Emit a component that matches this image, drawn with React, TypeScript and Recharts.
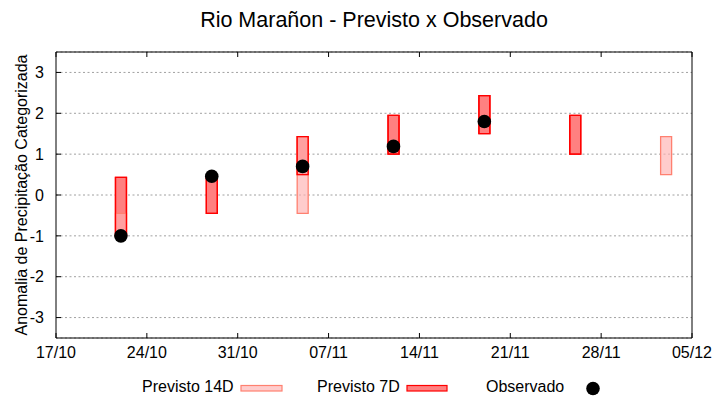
import React from 'react';
import { ComposedChart, Bar, Scatter, XAxis, YAxis, CartesianGrid } from 'recharts';

// x axis: days counted from 17/10
const tickDays = [0, 7, 14, 21, 28, 35, 42, 49];
const tickLabels = ['17/10', '24/10', '31/10', '07/11', '14/11', '21/11', '28/11', '05/12'];
const yTicks = [-3, -2, -1, 0, 1, 2, 3];

// forecast dates (day offsets) : 22/10, 29/10, 05/11, 12/11, 19/11, 26/11, 03/12
const forecastDays = [5, 12, 19, 26, 33, 40, 47];
const p14Low = [-1.0, null, -0.45, null, null, null, 0.5];
const p14High = [-0.45, null, 1.43, null, null, null, 1.43];
const p7Low = [-1.0, -0.45, 0.5, 1.0, 1.5, 1.0, null];
const p7High = [0.43, 0.43, 1.43, 1.95, 2.43, 1.95, null];
const observed = [-1.0, 0.46, 0.7, 1.19, 1.8, null, null];

const data = forecastDays.map((d, i) => ({
  day: d,
  p14: p14Low[i] == null ? null : [p14Low[i], p14High[i]],
  p7: p7Low[i] == null ? null : [p7Low[i], p7High[i]],
}));
const obsData = forecastDays
  .map((d, i) => ({ day: d, obs: observed[i] }))
  .filter((p) => p.obs != null);

const FONT = '"Liberation Sans", Arial, sans-serif';
const labelFor = (v: number) => tickLabels[tickDays.indexOf(v)] ?? '';
const DOMAIN_X: [number, number] = [0, 49];
const DOMAIN_Y: [number, number] = [-3.5, 3.5];

const Dot = (props: any) => {
  const { cx, cy } = props;
  if (cx == null || cy == null) return null;
  return <circle cx={cx} cy={cy} r={6.8} fill="#000" />;
};

export default function App() {
  return (
    <div style={{ position: 'absolute', left: 0, top: 0, width: 720, height: 400, background: '#fff', fontFamily: FONT }}>
      <ComposedChart
        width={720}
        height={400}
        data={data}
        margin={{ top: 51, right: 27, bottom: 32, left: 0 }}
        style={{ fontFamily: FONT }}
      >
        <CartesianGrid vertical={false} stroke="#a0a0a0" strokeDasharray="2 2.5" />
        <XAxis
          xAxisId={0}
          dataKey="day"
          type="number"
          domain={DOMAIN_X}
          ticks={tickDays}
          tickFormatter={labelFor}
          interval={0}
          height={30}
          tickSize={-5}
          tickMargin={14}
          stroke="#000"
          tick={{ fill: '#000', fontSize: 16, fontFamily: FONT }}
        />
        <XAxis
          xAxisId="top"
          orientation="top"
          dataKey="day"
          type="number"
          domain={DOMAIN_X}
          ticks={tickDays}
          tickFormatter={() => ''}
          interval={0}
          height={1}
          tickSize={-5}
          stroke="#000"
        />
        <XAxis xAxisId="b" dataKey="day" type="number" domain={DOMAIN_X} hide />
        <XAxis xAxisId="c" dataKey="day" type="number" domain={DOMAIN_X} hide />
        <YAxis
          yAxisId={0}
          type="number"
          domain={DOMAIN_Y}
          ticks={yTicks}
          interval={0}
          width={56}
          tickSize={-5}
          tickMargin={17}
          stroke="#000"
          tick={{ fill: '#000', fontSize: 16, fontFamily: FONT }}
          label={{
            value: 'Anomalia de Precipitação Categorizada',
            angle: -90,
            position: 'center',
            dx: -7,
            fill: '#000',
            fontSize: 16,
            fontFamily: FONT,
          }}
        />
        <YAxis
          yAxisId="r"
          orientation="right"
          type="number"
          domain={DOMAIN_Y}
          ticks={yTicks}
          interval={0}
          width={1}
          tickSize={-5}
          tickFormatter={() => ''}
          stroke="#000"
        />
        <Bar
          xAxisId={0}
          dataKey="p7"
          barSize={11}
          fill="#ff8080"
          stroke="#ff0000"
          strokeWidth={1.3}
          isAnimationActive={false}
        />
        <Bar
          xAxisId="b"
          dataKey="p14"
          barSize={11}
          fill="#ffb1b1"
          fillOpacity={0.65}
          stroke="#ff8070"
          strokeWidth={1.3}
          isAnimationActive={false}
        />
        <Bar
          xAxisId="c"
          dataKey="p7"
          barSize={11}
          fill="none"
          stroke="#ff0000"
          strokeWidth={1.3}
          isAnimationActive={false}
        />
        <Scatter xAxisId={0} data={obsData} dataKey="obs" shape={<Dot />} isAnimationActive={false} />
      </ComposedChart>
      <svg
        width={720}
        height={400}
        style={{ position: 'absolute', left: 0, top: 0, pointerEvents: 'none' }}
        fontFamily={FONT}
      >
        <text x={374} y={27} textAnchor="middle" fontSize={21.5} fill="#000">
          Rio Marañon - Previsto x Observado
        </text>
        <text x={142} y={392} fontSize={16} fill="#000">Previsto 14D</text>
        <rect x={241} y={385.5} width={41} height={5.5} fill="#ffcccc" stroke="#ff8070" strokeWidth={1.2} />
        <text x={317} y={392} fontSize={16} fill="#000">Previsto 7D</text>
        <rect x={407} y={385.5} width={40} height={5.5} fill="#ff8080" stroke="#ff0000" strokeWidth={1.2} />
        <text x={486} y={392} fontSize={16} fill="#000">Observado</text>
        <circle cx={593} cy={388.5} r={6.8} fill="#000" />
      </svg>
    </div>
  );
}
